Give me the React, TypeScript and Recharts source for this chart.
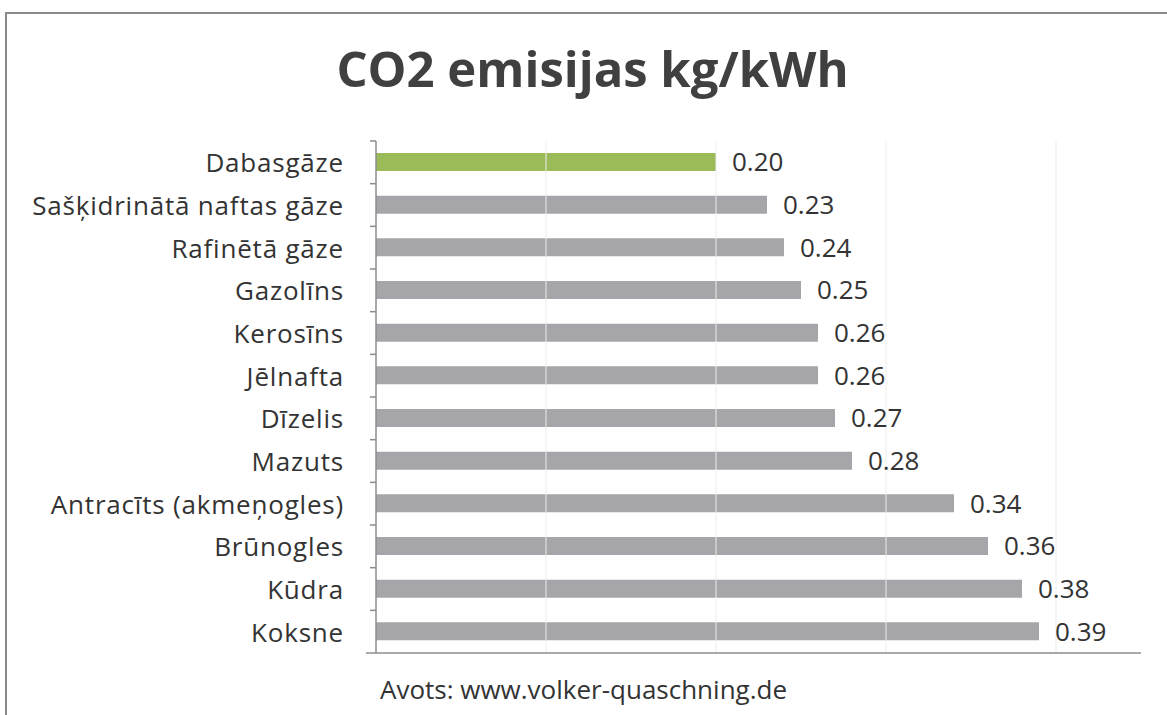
import React from 'react'
import { BarChart, Bar, XAxis, YAxis, Cell, LabelList, ReferenceLine } from 'recharts'

// fuel names, top to bottom
const fuels = [
  'Dabasgāze',
  'Sašķidrinātā naftas gāze',
  'Rafinētā gāze',
  'Gazolīns',
  'Kerosīns',
  'Jēlnafta',
  'Dīzelis',
  'Mazuts',
  'Antracīts (akmeņogles)',
  'Brūnogles',
  'Kūdra',
  'Koksne',
]

// kg CO2 per kWh
const emissions = [0.2, 0.23, 0.24, 0.25, 0.26, 0.26, 0.27, 0.28, 0.34, 0.36, 0.38, 0.39]

const gridValues = [0.1, 0.2, 0.3, 0.4]

const W = 1167
const H = 715
const PLOT_LEFT = 376
const PLOT_TOP = 141
const PLOT_BOTTOM = 653
const BAND = (PLOT_BOTTOM - PLOT_TOP) / fuels.length

const FONT = '"Open Sans", "DejaVu Sans", sans-serif'

const data = fuels.map((name, i) => ({ name, value: emissions[i] }))

function FuelTick(props: any) {
  const { y, payload, index } = props
  const top = y - BAND / 2
  return (
    <g>
      <line x1={PLOT_LEFT - 6} x2={PLOT_LEFT} y1={top} y2={top} stroke="#8c8c8c" strokeWidth={1.5} />
      {index === fuels.length - 1 && (
        <line x1={PLOT_LEFT - 10} x2={PLOT_LEFT} y1={top + BAND} y2={top + BAND} stroke="#8c8c8c" strokeWidth={1.5} />
      )}
      <text
        x={PLOT_LEFT - 32}
        y={y}
        textAnchor="end"
        dominantBaseline="central"
        fontSize={26}
        letterSpacing={0.8}
        fill="#333"
        fontFamily={FONT}
      >
        {payload.value}
      </text>
    </g>
  )
}

export default function App() {
  return (
    <div style={{ position: 'absolute', left: 0, top: 0, width: W, height: H, background: '#fff', overflow: 'hidden', fontFamily: FONT }}>
      <div
        style={{
          position: 'absolute',
          left: 5,
          top: 12,
          width: W,
          height: H,
          borderTop: '2px solid #8a8a8a',
          borderLeft: '2px solid #8a8a8a',
        }}
      />
      <div
        style={{
          position: 'absolute',
          left: 0,
          width: 1185,
          top: 35,
          textAlign: 'center',
          fontSize: 49,
          fontWeight: 700,
          color: '#404040',
          lineHeight: 'normal',
          whiteSpace: 'nowrap',
        }}
      >
        CO2 emisijas kg/kWh
      </div>
      <div style={{ position: 'absolute', left: 380, top: 671, fontSize: 26, color: '#333', whiteSpace: 'nowrap' }}>
        Avots: www.volker-quaschning.de
      </div>
      <div style={{ position: 'absolute', left: 0, top: 0 }}>
        <BarChart
          width={W}
          height={H}
          data={data}
          layout="vertical"
          margin={{ top: PLOT_TOP, right: W - 1141, bottom: H - PLOT_BOTTOM - 1, left: 0 }}
          barCategoryGap={0}
        >
          <XAxis
            type="number"
            domain={[0, 0.45]}
            ticks={[0, ...gridValues]}
            tick={false}
            tickLine={false}
            height={1}
            axisLine={{ stroke: '#8c8c8c', strokeWidth: 1.5 }}
          />
          <YAxis
            type="category"
            dataKey="name"
            width={PLOT_LEFT}
            tick={<FuelTick />}
            tickLine={false}
            interval={0}
            axisLine={{ stroke: '#8c8c8c', strokeWidth: 1.5 }}
          />
          {gridValues.map((v) => (
            <ReferenceLine key={v} x={v} stroke="#ededed" strokeWidth={1} />
          ))}
          <Bar dataKey="value" barSize={18} isAnimationActive={false}>
            {data.map((d, i) => (
              <Cell key={d.name} fill={i === 0 ? '#9bbb59' : '#a5a5aa'} />
            ))}
            <LabelList
              dataKey="value"
              position="right"
              offset={16}
              formatter={(v: any) => Number(v).toFixed(2)}
              style={{ fontSize: 26, fill: '#333', fontFamily: FONT }}
            />
          </Bar>
        </BarChart>
      </div>
    </div>
  )
}
